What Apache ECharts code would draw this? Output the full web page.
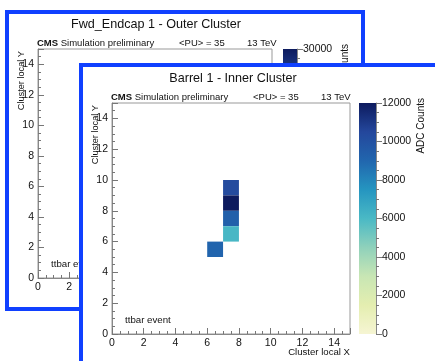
<!DOCTYPE html>
<html lang="en">
<head>
<meta charset="UTF-8">
<script src="https://cdn.jsdelivr.net/npm/echarts@6/dist/echarts.min.js"></script>
<style>
    html, body { margin: 0; padding: 0; background: #fff; overflow: hidden; }
    .pad { position: absolute; background: #fff; box-sizing: border-box; border: 4px solid #1040ff; }
    #back { left: 5px; top: 10px; width: 360px; height: 301px; }
    #front { left: 79px; top: 63px; width: 356px; height: 298px; border-right: none; border-bottom: none; }
    .chart { width: 100%; height: 100%; }
</style>
</head>
<body>
<div id="back" class="pad"><div class="chart" id="backChart"></div></div>
<div id="front" class="pad"><div class="chart" id="frontChart"></div></div>

<script type="text/javascript">
    // barrel layer 1 inner cluster: bin lower edges and ADC counts
    var binX = [7, 7, 7, 7, 6];
    var binY = [9, 8, 7, 6, 5];
    var binADC = [10300, 12000, 9300, 6100, 9100];

    // palette of the colour bar, from 0 up to the max
    var palette = ['#f6f5d3', '#e4eeb0', '#c8e6b4', '#8fd1bb', '#4ab9c5',
                   '#2595c0', '#2166ae', '#24479c', '#0d1b5e'];

    var FONT = '"Liberation Sans", Arial, sans-serif';

    function renderBin(params, api) {
        var p0 = api.coord([api.value(0), api.value(1) + 1]);
        var p1 = api.coord([api.value(0) + 1, api.value(1)]);
        return {
            type: 'rect',
            shape: { x: p0[0], y: p0[1], width: p1[0] - p0[0], height: p1[1] - p0[1] },
            style: { fill: api.visual('color') }
        };
    }

    function txt(x, y, text, size, align, extra) {
        var el = {
            type: 'text', x: x, y: y, z: 100,
            style: { text: text, fill: '#111', fontSize: size, fontFamily: FONT,
                     align: align || 'left', verticalAlign: 'middle' }
        };
        for (var k in extra) el[k] = extra[k];
        return el;
    }

    function padOption(p) {
        var stops = palette.map(function (c, i) { return { offset: i / (palette.length - 1), color: c }; });
        var tickLabel = { color: '#111', fontSize: 10.5, fontFamily: FONT };
        var data = [];
        for (var i = 0; i < p.x.length; i++) data.push([p.x[i], p.y[i], p.z[i]]);
        var mainAxis = function (pos) {
            return {
                gridIndex: 0, type: 'value', min: 0, max: 15, interval: 2, position: pos,
                axisLine: { show: true, onZero: false, lineStyle: { color: '#888' } },
                axisTick: { show: true, inside: true, length: 6, lineStyle: { color: '#777' } },
                minorTick: { show: true, splitNumber: 4, length: 3, lineStyle: { color: '#777' } },
                axisLabel: Object.assign({ showMaxLabel: false, margin: 4 }, tickLabel),
                splitLine: { show: false }
            };
        };
        return {
            animation: false,
            grid: [
                { left: p.gl, top: p.gt, width: p.gw, height: p.gh, show: true,
                  borderColor: '#999', borderWidth: 1, outerBoundsMode: 'none' },
                { left: p.bl, top: p.gt, width: p.bw, height: p.gh, outerBoundsMode: 'none' }
            ],
            xAxis: [
                mainAxis('bottom'),
                { gridIndex: 1, type: 'category', data: ['z'], show: false }
            ],
            yAxis: [
                mainAxis('left'),
                {
                    gridIndex: 1, type: 'value', min: 0, max: p.zMax, interval: p.zStep, position: 'right',
                    axisLine: { show: true, lineStyle: { color: '#888' } },
                    axisTick: { show: true, length: 6, lineStyle: { color: '#777' } },
                    minorTick: { show: true, splitNumber: 4, length: 3, lineStyle: { color: '#777' } },
                    axisLabel: Object.assign({ margin: 6, formatter: function (v) { return String(v); } }, tickLabel),
                    splitLine: { show: false }
                }
            ],
            visualMap: {
                show: false, type: 'continuous', min: 0, max: p.zMax, dimension: 2,
                seriesIndex: 0, inRange: { color: palette }
            },
            series: [
                { type: 'custom', xAxisIndex: 0, yAxisIndex: 0, renderItem: renderBin,
                  encode: { x: 0, y: 1 }, data: data, silent: true },
                { type: 'bar', xAxisIndex: 1, yAxisIndex: 1, data: [p.zMax], barWidth: '100%', silent: true,
                  itemStyle: { color: new echarts.graphic.LinearGradient(0, 1, 0, 0, stops) } }
            ],
            graphic: [
                txt(p.tx, p.ty, p.title, 12.6, 'center'),
                {
                    type: 'text', x: p.gl - 1, y: p.ly, z: 100,
                    style: { text: '{b|CMS} Simulation preliminary', fill: '#111', fontSize: 9.5,
                             fontFamily: FONT, verticalAlign: 'middle',
                             rich: { b: { fontWeight: 'bold', fontSize: 9.5, fontFamily: FONT } } }
                },
                txt(p.gl + 141, p.ly, '<PU> = 35', 9.5),
                txt(p.gl + 209, p.ly, '13 TeV', 9.5),
                txt(p.gl + 13, p.gt + p.gh - 14, 'ttbar event', 9.7),
                txt(p.gl + p.gw, p.gt + p.gh + 18, 'Cluster local X', 9.6, 'right'),
                txt(p.gl - 17, p.gt + 2, 'Cluster local Y', 9.2, 'right', { rotation: Math.PI / 2 }),
                txt(p.bl + 62, p.gt - 5, 'ADC Counts', 10, 'right', { rotation: Math.PI / 2 })
            ]
        };
    }

    var backChart = echarts.init(document.getElementById('backChart'));
    backChart.setOption(padOption({
        title: 'Fwd_Endcap 1 - Outer Cluster', x: [], y: [], z: [],
        zMax: 30000, zStep: 5000,
        gl: 29, gt: 35, gw: 234, gh: 229, bl: 274, bw: 14, tx: 147, ty: 11, ly: 29
    }));

    var frontChart = echarts.init(document.getElementById('frontChart'));
    frontChart.setOption(padOption({
        title: 'Barrel 1 - Inner Cluster', x: binX, y: binY, z: binADC,
        zMax: 12000, zStep: 2000,
        gl: 29, gt: 36, gw: 238, gh: 231, bl: 276, bw: 17, tx: 150, ty: 12, ly: 30
    }));
</script>
</body>
</html>
